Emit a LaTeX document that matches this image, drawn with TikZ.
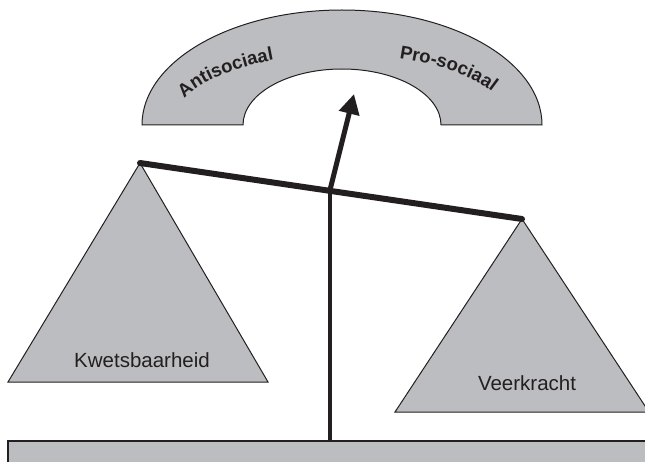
\documentclass[tikz,border=0pt]{standalone}
\usepackage{fontspec}
\setmainfont{Liberation Sans}
\usepackage{tikz}
\usetikzlibrary{arrows.meta,decorations.text}
\definecolor{pangrey}{RGB}{188,189,192}
\definecolor{ink}{RGB}{35,31,32}

\begin{document}
\begin{tikzpicture}[x=1pt,y=1pt,
		pan/.style={fill=pangrey,draw=ink,line width=1pt,line join=miter},
		beam/.style={draw=ink,line width=6pt,line cap=round},
		pole/.style={draw=ink,line width=4pt},
		needle/.style={draw=ink,line width=5pt,-{Triangle[length=20pt,width=20pt]}},
		lbl/.style={font=\fontsize{20.5}{24}\selectfont,text=ink,anchor=base,inner sep=0pt}]
			\clip (0,0) rectangle (645,461);
			% arch
			\path[pan] (142,336) arc[start angle=180,end angle=0,x radius=200,y radius=115]
				-- (441,336) arc[start angle=0,end angle=180,x radius=99,y radius=56] -- cycle;
			\path[decorate,decoration={text along path,text align=center,
				text={|\fontsize{18.5}{20}\selectfont\bfseries\color{ink}|Antisociaal}}]
				(342,336) ++(171:170 and 71) arc[start angle=171,end angle=107,x radius=170,y radius=71];
			\path[decorate,decoration={text along path,text align=center,
				text={|\fontsize{18.5}{20}\selectfont\bfseries\color{ink}|Pro-sociaal}}]
				(342,336) ++(78:170 and 71) arc[start angle=78,end angle=14,x radius=170,y radius=71];
			
			% pans
			\coordinate (kw-top) at (140,298);
			\coordinate (vk-top) at (522,242);
			\path[pan] (kw-top) -- (8,79) -- (268,79) -- cycle;
			\path[pan] (vk-top) -- (395,49) -- (649,49) -- cycle;
			\node[lbl] (kwets) at (142,94) {Kwetsbaarheid};
			\node[lbl] (veer) at (527,71) {Veerkracht};
			
			% base
			\path[fill=pangrey,draw=ink,line width=1.5pt] (8,-5) rectangle (655,20);
			
			% beam, pole and needle
			\coordinate (pivot) at (330,271);
			\coordinate (foot) at (330,20);
			\coordinate (tip) at (354,367);
			\draw[beam] (kw-top) -- (vk-top);
			\draw[pole] (pivot) -- (foot);
			\draw[needle] (pivot) -- (tip);
\end{tikzpicture}
\end{document}
